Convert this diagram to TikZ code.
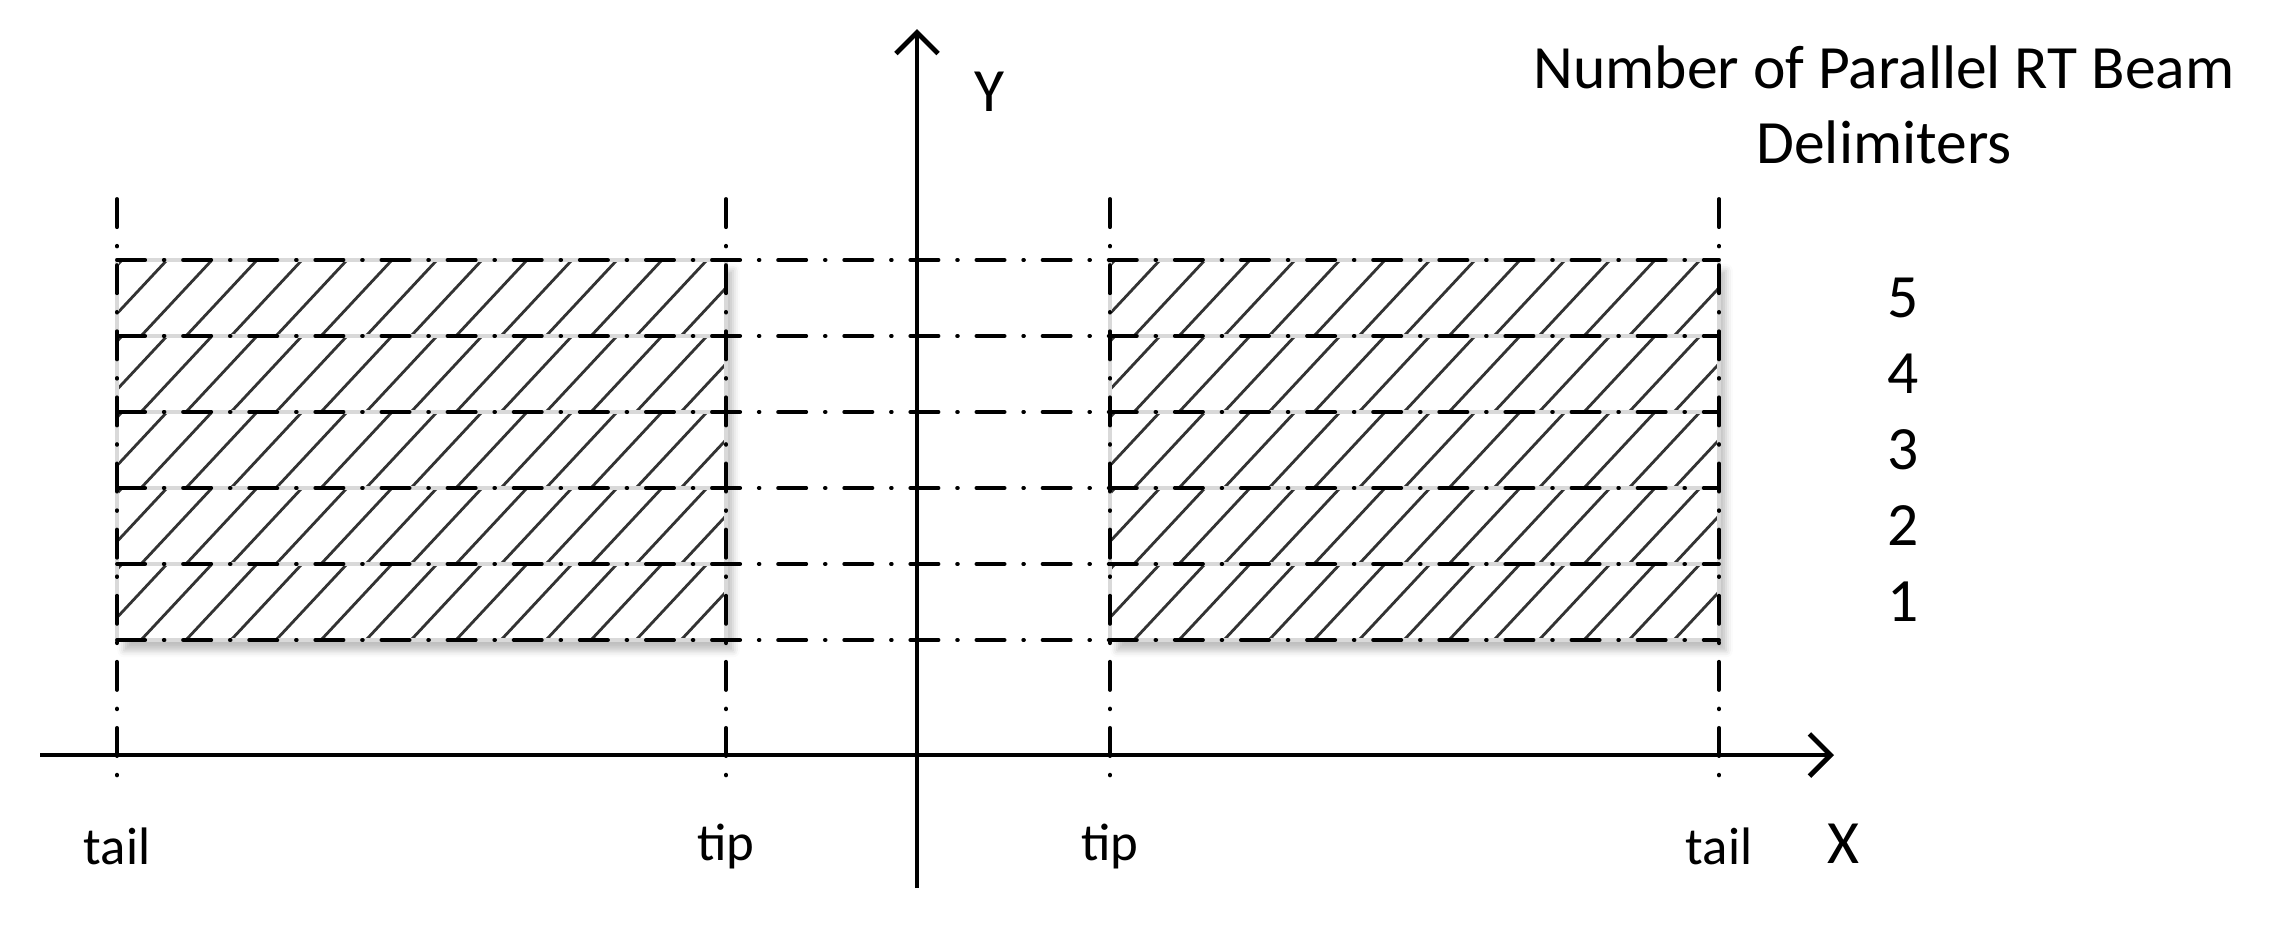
\documentclass[tikz,border=0pt]{standalone}
\usepackage{fontspec}
\setmainfont{Carlito}
\usetikzlibrary{arrows.meta,shadows.blur}

\begin{document}
\begin{tikzpicture}
  [x=0.01cm,y=-0.01cm,
   axis/.style={line width=1.4pt,-{Straight Barb[length=6pt,width=12pt,line width=1.4pt]}},
   delim/.style={line width=1.1pt,line cap=round,dash pattern=on 8pt off 5.3pt on 0.2pt off 5.3pt},
   cell/.style={draw=gray!30,line width=1.4pt},
   hatch/.style={line width=0.8pt,black!80},
   lbl/.style={font=\fontsize{17.5}{21.5}\selectfont,inner sep=0pt},
   endlbl/.style={font=\fontsize{15}{18}\selectfont,inner sep=0pt}]

  \useasboundingbox (0,0) rectangle (2290,932);

  % the two beams
  \foreach \x in {117,1110} {
    \fill[white,blur shadow={shadow xshift=2pt,shadow yshift=-3pt,shadow opacity=25}]
      (\x,260) rectangle ++(609,380);
    \foreach \y in {260,336,412,488,564} {
      \begin{scope}
        \clip (\x,\y) rectangle ++(609,76);
        \foreach \k in {0,...,15}
          \draw[hatch] (\x-66+\k*45,\y+76) -- ++(71,-76);
      \end{scope}
      \draw[cell] (\x,\y) rectangle ++(609,76);
    }
  }

  % delimiters
  \foreach \y in {260,336,412,488,564,640}
    \draw[delim] (117,\y) -- (1719,\y);
  \foreach \x in {117,726,1110,1719}
    \draw[delim] (\x,199) -- (\x,778);

  % axes
  \coordinate (xs) at (40,755);
  \coordinate (xe) at (1834,755);
  \coordinate (ys) at (917,888);
  \coordinate (ye) at (917,29);
  \draw[axis] (xs) -- (xe);
  \draw[axis] (ys) -- (ye);

  \node[lbl] (ylab) at (989,92) {Y};
  \node[lbl] (xlab) at (1843,844) {X};

  \node[endlbl] (tailL) at (117,846) {tail};
  \node[endlbl] (tipL) at (726,846) {tip};
  \node[endlbl] (tipR) at (1110,846) {tip};
  \node[endlbl] (tailR) at (1719,846) {tail};

  \node[lbl,align=center] (title) at (1884,105) {Number of Parallel RT Beam\\Delimiters};
  \foreach \n/\y in {1/602,2/526,3/450,4/374,5/298}
    \node[lbl] (n\n) at (1903,\y) {\n};
\end{tikzpicture}
\end{document}
